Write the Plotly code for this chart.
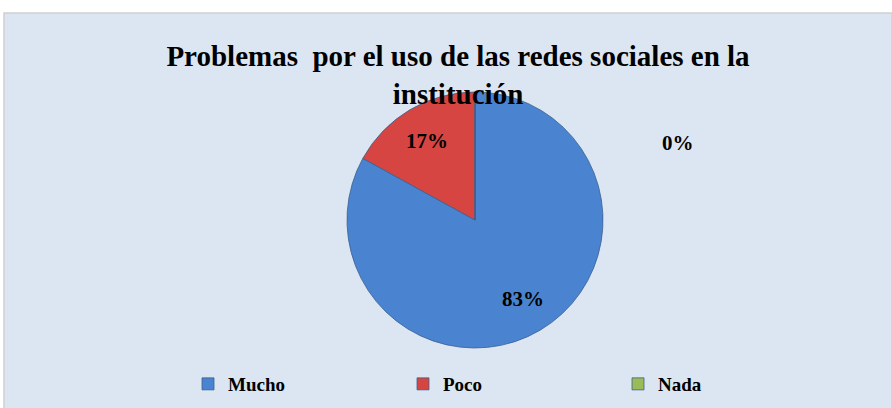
import math
import plotly.graph_objects as go

categories = ["Mucho", "Poco", "Nada"]
values = [83, 17, 0]
colors = ["#4a83d0", "#d64541", "#9bbb59"]
title_text = "Problemas  por el uso de las redes sociales en la<br>institución"

W, H = 892, 408
# pie geometry (pixels)
CX, CY, R = 475, 220, 128
dom_x = [(CX - R) / W, (CX + R) / W]
dom_y = [1 - (CY + R) / H, 1 - (CY - R) / H]

fig = go.Figure()
fig.add_trace(go.Pie(
    labels=categories,
    values=values,
    sort=False,
    direction="clockwise",
    rotation=0,
    marker=dict(colors=colors, line=dict(color="#3a5f8f", width=0.8)),
    textinfo="none",
    domain=dict(x=dom_x, y=dom_y),
    showlegend=True,
    hoverinfo="label+percent",
))

# data labels placed along each slice's mid-angle
total = sum(values)
cum = 0
label_font = dict(family="Liberation Serif", size=21, color="black")
for cat, v in zip(categories, values):
    if v > 0:
        ang = 2 * math.pi * (cum + v / 2) / total
        px = CX + 0.74 * R * math.sin(ang)
        py = CY - 0.72 * R * math.cos(ang)
        fig.add_annotation(x=px / W, y=1 - py / H, xref="paper", yref="paper",
                           xanchor="center", yanchor="middle",
                           text=f"<b>{v}%</b>", showarrow=False, font=label_font)
    cum += v

# label for the zero-valued slice (placed outside, as in the original)
fig.add_annotation(x=678 / W, y=1 - 143 / H, xref="paper", yref="paper",
                   xanchor="center", yanchor="middle",
                   text=f"<b>{values[2]}%</b>", showarrow=False, font=label_font)

fig.update_layout(
    width=W, height=H,
    margin=dict(l=0, r=0, t=0, b=0, autoexpand=False),
    paper_bgcolor="white",
    plot_bgcolor="white",
    title=dict(text=f"<b>{title_text}</b>", x=458 / W, xanchor="center",
               y=1 - 66 / H, yanchor="top",
               font=dict(family="Liberation Serif", size=29, color="black")),
    legend=dict(orientation="h", x=188 / W, xanchor="left", y=1 - 365 / H, yanchor="top",
                entrywidth=170, entrywidthmode="pixels",
                font=dict(family="Liberation Serif", size=19, color="black", weight="bold"),
                bgcolor="rgba(0,0,0,0)", itemwidth=30),
    shapes=[dict(type="rect", xref="paper", yref="paper",
                 x0=4 / W, x1=1.0, y0=-0.01, y1=1 - 13 / H,
                 fillcolor="#dce6f2", line=dict(color="#d0d0d0", width=1.5),
                 layer="below")],
)

fig.write_html("out.html", config={"displayModeBar": False},
               post_script="document.body.style.margin='0';")
